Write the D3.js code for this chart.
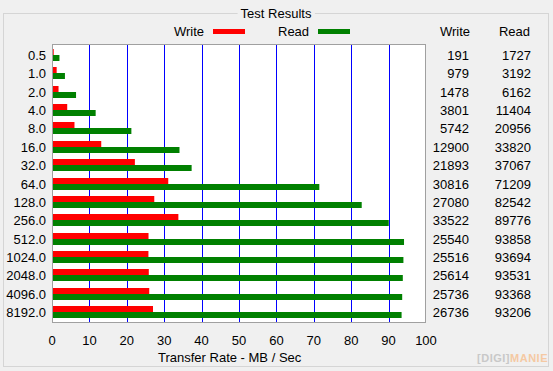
<!DOCTYPE html>
<html>
<head>
<meta charset="utf-8">
<script src="https://cdn.jsdelivr.net/npm/d3@7"></script>
<style>
html,body{margin:0;padding:0;background:#f0f0f0;}
svg{display:block;}
text{font-family:"Liberation Sans",Arial,sans-serif;font-size:13px;fill:#000;}
</style>
</head>
<body>
<svg id="chart" width="553" height="371"></svg>
<script>
const blockSizes = ["0.5","1.0","2.0","4.0","8.0","16.0","32.0","64.0","128.0","256.0","512.0","1024.0","2048.0","4096.0","8192.0"];
const writeKB = [191,979,1478,3801,5742,12900,21893,30816,27080,33522,25540,25516,25614,25736,26736];
const readKB = [1727,3192,6162,11404,20956,33820,37067,71209,82542,89776,93858,93694,93531,93368,93206];
const xTicks = [0,10,20,30,40,50,60,70,80,90,100];
const title = "Test Results";
const xTitle = "Transfer Rate - MB / Sec";

const svg = d3.select("#chart");
const W = 553, H = 371;
const plot = {left:52, right:426, top:44, bottom:323};

// group box
svg.append("rect").attr("x",3.5).attr("y",13.5).attr("width",545).attr("height",353)
  .attr("fill","none").attr("stroke","#d5d5d5");
const tt = svg.append("text").attr("x",276).attr("y",18).attr("text-anchor","middle").text(title);
const bb = tt.node().getBBox();
svg.insert("rect","text").attr("x",bb.x-3).attr("y",8).attr("width",bb.width+6).attr("height",10).attr("fill","#f0f0f0");

// legend
svg.append("text").attr("x",204).attr("y",36).attr("text-anchor","end").text("Write");
svg.append("rect").attr("x",213).attr("y",29).attr("width",32).attr("height",5).attr("fill","#ff0000");
svg.append("text").attr("x",278).attr("y",36).text("Read");
svg.append("rect").attr("x",318).attr("y",29).attr("width",32).attr("height",5).attr("fill","#008000");

const x = d3.scaleLinear().domain([0,100]).range([plot.left, plot.right]);
const y = d3.scalePoint().domain(blockSizes).range([plot.top, plot.bottom]).padding(0.6);

// plot background
svg.append("rect").attr("x",plot.left).attr("y",plot.top).attr("width",plot.right-plot.left).attr("height",plot.bottom-plot.top).attr("fill","#fff");

// gridlines
svg.append("g").selectAll("line").data(xTicks.filter(t=>t>0&&t<100)).join("line")
  .attr("x1",d=>Math.round(x(d))+0.5).attr("x2",d=>Math.round(x(d))+0.5)
  .attr("y1",plot.top).attr("y2",plot.bottom).attr("stroke","#0000ff").attr("stroke-width",1);

const barH = 6;
// write bars
svg.append("g").selectAll("rect").data(blockSizes).join("rect")
  .attr("x",x(0)+1).attr("y",d=>Math.round(y(d))-barH)
  .attr("width",(d,i)=>Math.max(0,x(writeKB[i]/1000)-x(0)))
  .attr("height",barH).attr("fill","#ff0000");
// read bars
svg.append("g").selectAll("rect").data(blockSizes).join("rect")
  .attr("x",x(0)+1).attr("y",d=>Math.round(y(d)))
  .attr("width",(d,i)=>Math.max(0,x(readKB[i]/1000)-x(0)))
  .attr("height",barH).attr("fill","#008000");

// frame
svg.append("rect").attr("x",plot.left+0.5).attr("y",plot.top+0.5).attr("width",plot.right-plot.left-1).attr("height",plot.bottom-plot.top-1)
  .attr("fill","none").attr("stroke","#a0a0a0");

// y labels
svg.append("g").selectAll("text").data(blockSizes).join("text")
  .attr("x",46).attr("y",d=>Math.round(y(d))+5).attr("text-anchor","end").text(d=>d);

// x axis labels
svg.append("g").selectAll("text").data(xTicks).join("text")
  .attr("x",d=>x(d)).attr("y",345).attr("text-anchor","middle").text(d=>d);
svg.append("text").attr("x",158).attr("y",362).text(xTitle);

// table
svg.append("text").attr("x",470).attr("y",36).attr("text-anchor","end").text("Write");
svg.append("text").attr("x",530).attr("y",36).attr("text-anchor","end").text("Read");
svg.append("g").selectAll("text").data(writeKB).join("text")
  .attr("x",469).attr("y",(d,i)=>Math.round(y(blockSizes[i]))+5).attr("text-anchor","end").text(d=>d);
svg.append("g").selectAll("text").data(readKB).join("text")
  .attr("x",531).attr("y",(d,i)=>Math.round(y(blockSizes[i]))+5).attr("text-anchor","end").text(d=>d);

// watermark
const wm = svg.append("text").attr("x",548).attr("y",362).attr("text-anchor","end")
  .style("font-size","11px").style("font-weight","bold").style("letter-spacing","0.5px");
wm.append("tspan").attr("fill","#c8c8c8").style("fill","#c8c8c8").text("[DIGI]");
wm.append("tspan").style("fill","#f5c9a3").text("MANIE");
</script>
</body>
</html>
